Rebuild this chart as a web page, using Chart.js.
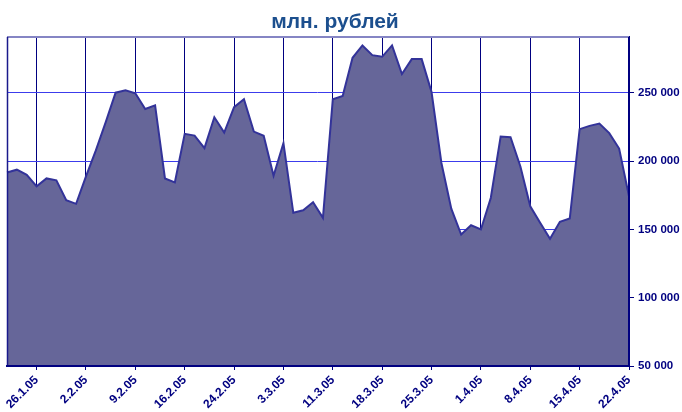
<!DOCTYPE html>
<html>
<head>
<meta charset="utf-8">
<script src="https://cdn.jsdelivr.net/npm/chart.js@4/dist/chart.umd.min.js"></script>
<style>
html,body{margin:0;padding:0;background:#fff;}
#wrap{width:682px;height:412px;position:relative;}
</style>
</head>
<body>
<div id="wrap"><canvas id="c" width="682" height="412"></canvas></div>
<script>
// Trading days (categories)
const categories = [
  "21.1.05","24.1.05","25.1.05",
  "26.1.05","27.1.05","28.1.05","31.1.05","1.2.05",
  "2.2.05","3.2.05","4.2.05","7.2.05","8.2.05",
  "9.2.05","10.2.05","11.2.05","14.2.05","15.2.05",
  "16.2.05","17.2.05","18.2.05","21.2.05","22.2.05",
  "24.2.05","25.2.05","28.2.05","1.3.05","2.3.05",
  "3.3.05","4.3.05","5.3.05","9.3.05","10.3.05",
  "11.3.05","14.3.05","15.3.05","16.3.05","17.3.05",
  "18.3.05","21.3.05","22.3.05","23.3.05","24.3.05",
  "25.3.05","28.3.05","29.3.05","30.3.05","31.3.05",
  "1.4.05","4.4.05","5.4.05","6.4.05","7.4.05",
  "8.4.05","11.4.05","12.4.05","13.4.05","14.4.05",
  "15.4.05","18.4.05","19.4.05","20.4.05","21.4.05",
  "22.4.05"
];
// Values, mln roubles
const values = [
  191800,193800,190100,
  181600,187400,186000,171400,168800,
  188900,207900,228600,250200,252000,
  249800,238300,241000,187400,184500,
  220100,218800,209600,232200,221000,
  239600,245400,221700,218600,189400,
  213300,162200,164100,169900,158500,
  245400,247800,275800,284800,277700,
  276500,284800,263900,274800,274800,
  250700,198700,165300,146300,153100,
  150000,173100,218100,217600,196200,
  167000,154900,143200,155600,158000,
  223500,225900,227600,220600,209300,
  174300
];
// Labelled ticks on the x axis
const tickLabels = ["26.1.05","2.2.05","9.2.05","16.2.05","24.2.05","3.3.05","11.3.05","18.3.05","25.3.05","1.4.05","8.4.05","15.4.05","22.4.05"];
// Y axis ticks
const yTicks = [50000,100000,150000,200000,250000];
const yMin = 50000, yMax = 291000;
const titleText = "млн. рублей";

const NAVY = '#000080';
const FONT = "'Liberation Sans', Arial, sans-serif";

const framePlugin = {
  id: 'frame',
  afterDatasetsDraw(chart) {
    const {ctx, chartArea: a} = chart;
    ctx.save();
    ctx.lineWidth = 2;
    ctx.strokeStyle = '#8585c4';
    ctx.beginPath(); ctx.moveTo(a.left, a.top); ctx.lineTo(a.right, a.top); ctx.stroke();
    ctx.lineWidth = 1.5;
    ctx.strokeStyle = '#1a1a8c';
    ctx.beginPath(); ctx.moveTo(a.left + 0.5, a.top); ctx.lineTo(a.left + 0.5, a.bottom); ctx.stroke();
    ctx.lineWidth = 2;
    ctx.strokeStyle = NAVY;
    ctx.beginPath(); ctx.moveTo(a.left, a.bottom); ctx.lineTo(a.right, a.bottom); ctx.stroke();
    ctx.beginPath(); ctx.moveTo(a.right, a.top); ctx.lineTo(a.right, a.bottom); ctx.stroke();
    ctx.restore();
  },
  afterDraw(chart) {
    const {ctx} = chart;
    ctx.save();
    ctx.font = "bold 21px " + FONT;
    ctx.fillStyle = '#1c4f8e';
    ctx.textAlign = 'center';
    ctx.textBaseline = 'alphabetic';
    ctx.fillText(titleText, 335, 28);
    ctx.restore();
  }
};

new Chart(document.getElementById('c'), {
  type: 'line',
  data: {
    labels: categories,
    datasets: [{
      data: values,
      borderColor: '#333399',
      backgroundColor: '#666699',
      borderWidth: 2,
      fill: 'start',
      pointRadius: 0,
      tension: 0
    }]
  },
  options: {
    responsive: false,
    animation: false,
    layout: { padding: { left: 7, top: 37, right: 0, bottom: 0 } },
    plugins: { legend: { display: false }, title: { display: false }, tooltip: { enabled: false } },
    scales: {
      x: {
        type: 'category',
        offset: false,
        afterFit(s) { s.height = 46; },
        grid: {
          drawOnChartArea: true,
          color(ctx) { return (ctx.tick && tickLabels.includes(categories[ctx.index])) ? NAVY : 'rgba(0,0,0,0)'; },
          tickColor(ctx) { return (ctx.tick && tickLabels.includes(categories[ctx.index])) ? NAVY : 'rgba(0,0,0,0)'; },
          lineWidth: 1,
          tickLength: 4
        },
        border: { display: true, color: NAVY, width: 2 },
        ticks: {
          autoSkip: false,
          maxRotation: 45,
          minRotation: 45,
          padding: 3,
          color: NAVY,
          font: { family: FONT, size: 12, weight: 'bold' },
          callback(value) {
            const l = categories[value];
            return tickLabels.includes(l) ? l : '';
          }
        }
      },
      y: {
        position: 'right',
        min: yMin,
        max: yMax,
        afterFit(s) { s.width = 53; },
        afterBuildTicks(s) { s.ticks = yTicks.map(v => ({ value: v })); },
        grid: {
          color: '#3c3cec',
          tickColor: NAVY,
          lineWidth: 1,
          tickLength: 5
        },
        border: { display: true, color: NAVY, width: 2 },
        ticks: {
          padding: 4,
          color: NAVY,
          font: { family: FONT, size: 11.5, weight: 'bold' },
          callback(v) { return String(v).replace(/\B(?=(\d{3})+(?!\d))/g, ' '); }
        }
      }
    }
  },
  plugins: [framePlugin]
});
</script>
</body>
</html>
